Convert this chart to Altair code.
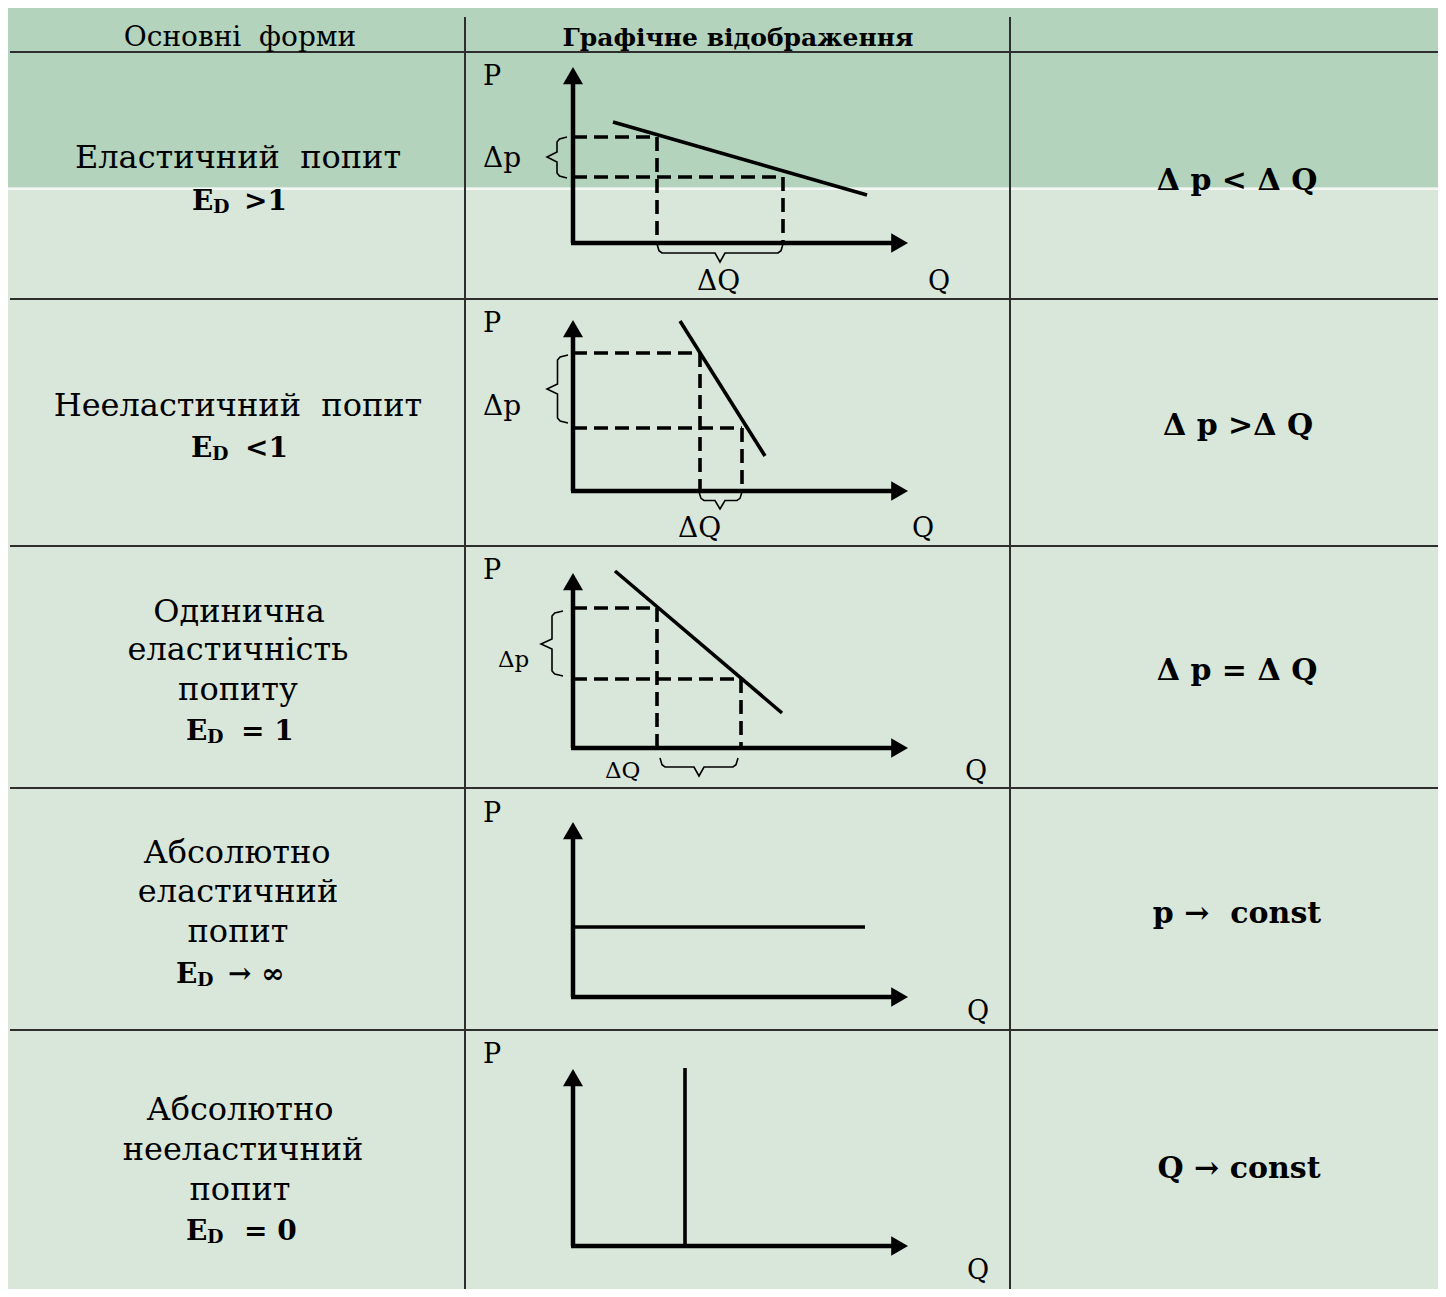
import altair as alt
import pandas as pd

SERIF = "DejaVu Serif"
INK = "#000000"
GRID = "#2e2e2e"

# ---------------- data (reference pixel space, y grows downward) ----------------
# table grid
grid_rows_y = [52, 299, 546, 788, 1030]
grid_left, grid_right = 10, 1446
grid_cols_x = [465, 1010]
grid_cols_top, grid_cols_bottom = 17, 1297

# header
header_text = ["Основні\u00a0 форми", "Графічне відображення"]
header_x = [240, 738]
header_y = [46, 46]

# left column labels
left_text = ["Еластичний\u00a0 попит", "Нееластичний\u00a0 попит",
             "Одинична", "еластичність", "попиту",
             "Абсолютно", "еластичний", "попит",
             "Абсолютно", "нееластичний", "попит"]
left_x = [238, 238, 239, 238, 238, 237, 238, 238, 240, 243, 240]
left_y = [168, 416, 622, 660, 700, 863, 902, 942, 1120, 1160, 1200]

# E_D formulas (E, subscript D, remainder)
ed_E_x = [192, 191, 186, 176, 186]
ed_D_x = [213, 212, 207, 197, 207]
ed_rest = [">1", "<1", "= 1", "→ ∞", "= 0"]
ed_rest_x = [244, 245, 241, 228, 244]
ed_y = [210, 457, 740, 983, 1240]

# right column relations
right_text = ["Δ p < Δ Q", "Δ p >Δ Q", "Δ p = Δ Q", "p →\u00a0 const", "Q → const"]
right_x = [1237, 1238, 1237, 1237, 1239]
right_y = [190, 435, 680, 923, 1178]

# diagram axes (one per row)
axis_x0 = 573
axis_origin_y = [243, 491, 748, 997, 1246]
axis_top_y = [67, 320, 573, 822, 1069]
axis_right_x = 908

# demand curves (x1, y1, x2, y2)
curve_x1 = [613, 680, 615, 573, 685]
curve_y1 = [122, 321, 571, 927, 1068]
curve_x2 = [867, 765, 782, 865, 685]
curve_y2 = [195, 456, 713, 927, 1246]

# dashed projection lines
dash_x1 = [573, 573, 657, 783, 573, 573, 700, 742, 573, 573, 657, 741]
dash_y1 = [137, 177, 137, 177, 353, 428, 353, 428, 608, 679, 608, 679]
dash_x2 = [657, 783, 657, 783, 700, 742, 700, 742, 657, 741, 657, 741]
dash_y2 = [137, 177, 243, 243, 353, 428, 491, 491, 608, 679, 748, 748]

# braces: kind, end-start, end-end, end line, tip position
brace_kind = ["v", "h", "v", "h", "v", "h"]
brace_a1 = [137, 657, 355, 699, 611, 660]     # start of span
brace_a2 = [178, 783, 423, 742, 676, 738]     # end of span
brace_base = [567, 244, 568, 492, 563, 758]   # where the brace ends sit
brace_tip = [547, 262, 547, 509, 541, 776]    # how far the tip reaches
brace_tip_at = [157, 720, 389, 720, 644, 699] # tip location along span

# axis letters
P_x = 483
P_y = [85, 332, 579, 822, 1063]
Q_x = [928, 912, 965, 967, 967]
Q_y = [290, 537, 780, 1020, 1279]
delta_text = ["Δp", "ΔQ", "Δp", "ΔQ"]
delta_x = [483, 697, 483, 678]
delta_y = [167, 290, 415, 537]
delta_small_text = ["Δp", "ΔQ"]
delta_small_x = [498, 605]
delta_small_y = [667, 778]

# ---------------- scales ----------------
XS = alt.Scale(domain=[8, 1438], nice=False, zero=False)
YS = alt.Scale(domain=[8, 1289], nice=False, zero=False, reverse=True)


def X(f="x"):
    return alt.X(f"{f}:Q", scale=XS, axis=None)


def Y(f="y"):
    return alt.Y(f"{f}:Q", scale=YS, axis=None)


def segs(x1, y1, x2, y2):
    return pd.DataFrame({"x": x1, "y": y1, "x2": x2, "y2": y2})


def rule_layer(df, width, color=INK, dash=None, cap="butt"):
    kw = dict(strokeWidth=width, color=color, strokeCap=cap)
    if dash:
        kw["strokeDash"] = dash
    return alt.Chart(df).mark_rule(**kw).encode(
        x=X(), y=Y(), x2=alt.X2("x2:Q"), y2=alt.Y2("y2:Q"))


def text_layer(text, xs, ys, size, weight="normal", align="left", font=SERIF):
    df = pd.DataFrame({"t": text, "x": xs, "y": ys})
    return alt.Chart(df).mark_text(font=font, fontSize=size, fontWeight=weight,
                                   align=align, baseline="alphabetic",
                                   color=INK).encode(x=X(), y=Y(), text="t:N")


# ---------------- background bands ----------------
bands = pd.DataFrame({
    "x": [0, 0, 0], "x2": [1446, 1446, 1446],
    "y": [0, 2, 187.5], "y2": [2, 187.5, 190],
    "c": ["#8fbf9c", "#b4d3bc", "#f4f8f4"],
})
band_layer = alt.Chart(bands).mark_rect().encode(
    x=X(), x2=alt.X2("x2:Q"), y=Y(), y2=alt.Y2("y2:Q"),
    color=alt.Color("c:N", scale=None))

# ---------------- table grid ----------------
grid_h = segs([grid_left] * len(grid_rows_y), grid_rows_y,
              [grid_right] * len(grid_rows_y), grid_rows_y)
grid_v = segs(grid_cols_x, [grid_cols_top] * 2, grid_cols_x, [grid_cols_bottom] * 2)
grid_layer = rule_layer(pd.concat([grid_h, grid_v]), 2, GRID)

# ---------------- diagrams ----------------
n = len(axis_origin_y)
yaxis = segs([axis_x0] * n, axis_origin_y, [axis_x0] * n, [t + 10 for t in axis_top_y])
xaxis = segs([axis_x0 - 2] * n, axis_origin_y, [axis_right_x - 10] * n, axis_origin_y)
axes_layer = rule_layer(pd.concat([yaxis, xaxis]), 4.5)

curve_layer = rule_layer(segs(curve_x1, curve_y1, curve_x2, curve_y2), 3.6)
dash_layer = rule_layer(segs(dash_x1, dash_y1, dash_x2, dash_y2), 3.6, dash=[14, 7])

up_heads = pd.DataFrame({"x": [axis_x0] * n, "y": axis_top_y})
right_heads = pd.DataFrame({"x": [axis_right_x] * n, "y": axis_origin_y})
up_layer = alt.Chart(up_heads).mark_point(
    shape="triangle-up", filled=True, size=400, color=INK, opacity=1,
    yOffset=8.66).encode(x=X(), y=Y())
right_layer = alt.Chart(right_heads).mark_point(
    shape="triangle-right", filled=True, size=380, color=INK, opacity=1,
    xOffset=-8.4).encode(x=X(), y=Y())

# braces built from their span / tip values
rows = []
for i, kind in enumerate(brace_kind):
    a1, a2, b, tip, m = brace_a1[i], brace_a2[i], brace_base[i], brace_tip[i], brace_tip_at[i]
    mid = (b + tip) / 2
    prof = [(a1, b), (a1 + 2, b + (mid - b) * 0.75), (a1 + 5, mid),
            (m - 5, mid), (m, tip), (m + 5, mid),
            (a2 - 5, mid), (a2 - 2, b + (mid - b) * 0.75), (a2, b)]
    for k, (along, across) in enumerate(prof):
        if kind == "v":
            rows.append({"id": i, "o": k, "x": across, "y": along})
        else:
            rows.append({"id": i, "o": k, "x": along, "y": across})
brace_layer = alt.Chart(pd.DataFrame(rows)).mark_line(
    color=INK, strokeWidth=1.6, interpolate="linear").encode(
    x=X(), y=Y(), detail="id:N", order="o:Q")

# ---------------- texts ----------------
texts = [
    text_layer(header_text[:1], header_x[:1], header_y[:1], 28, align="center"),
    text_layer(header_text[1:], header_x[1:], header_y[1:], 25, "bold", align="center"),
    text_layer(left_text, left_x, left_y, 32, align="center"),
    text_layer(["E"] * len(ed_y), ed_E_x, ed_y, 28, "bold"),
    text_layer(["D"] * len(ed_y), ed_D_x, [v + 3 for v in ed_y], 19, "bold"),
    text_layer(ed_rest, ed_rest_x, ed_y, 28, "bold"),
    text_layer(right_text, right_x, right_y, 30, "bold", align="center"),
    text_layer(["P"] * len(P_y), [P_x] * len(P_y), P_y, 27),
    text_layer(["Q"] * len(Q_y), Q_x, Q_y, 27),
    text_layer(delta_text, delta_x, delta_y, 28),
    text_layer(delta_small_text, delta_small_x, delta_small_y, 23),
]

chart = alt.layer(
    band_layer, grid_layer, dash_layer, axes_layer, curve_layer,
    up_layer, right_layer, brace_layer, *texts
).properties(
    width=1430, height=1281, padding=0, autosize="none", background="#d9e7da"
).configure_view(stroke=None)

chart.save("out.html", embed_options={"renderer": "svg", "actions": False})
